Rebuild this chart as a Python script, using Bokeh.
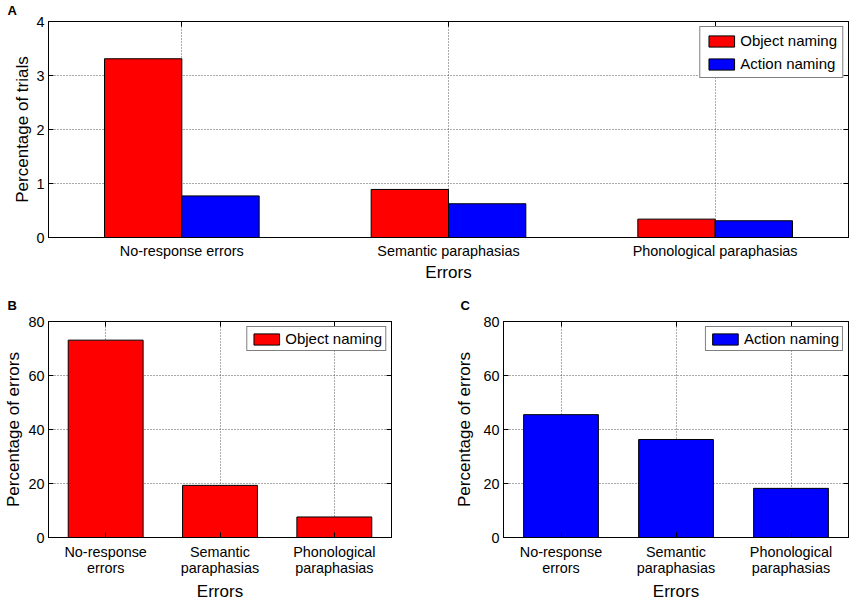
from bokeh.plotting import figure
from bokeh.models import (ColumnDataSource, FactorRange, Range1d, FixedTicker,
                          LinearAxis, CategoricalAxis, CustomLabelingPolicy)
from bokeh.transform import dodge
from bokeh.layouts import column, row
from bokeh.embed import file_html
from bokeh.resources import INLINE

# ---------------- data ----------------
categories = ["No-response errors", "Semantic paraphasias", "Phonological paraphasias"]
categories_wrapped = ["No-response\nerrors", "Semantic\nparaphasias", "Phonological\nparaphasias"]
series_names = ["Object naming", "Action naming"]
series_colors = ["#FF0000", "#0000FF"]

trials_object = [3.31, 0.89, 0.34]     # panel A, % of trials
trials_action = [0.77, 0.625, 0.31]
errors_object = [73.1, 19.3, 7.6]      # panel B, % of errors
errors_action = [45.5, 36.3, 18.2]     # panel C, % of errors

ticks_trials = [0, 1, 2, 3, 4]
ticks_errors = [0, 20, 40, 60, 80]

FONT = "Liberation Sans"

HIDE_LABELS = "for (const i of indices) indices.unset(i)\nreturn indices"


def style(p, yticks, xlabel, ylabel, ylabel_standoff, panel, title_offset, title_standoff,
          xlabel_standoff, xtick_standoff):
    p.outline_line_color = "black"
    p.outline_line_width = 1
    p.background_fill_color = "white"
    p.border_fill_color = "white"
    xax = p.below[0]
    yax = p.left[0]
    for ax in (xax, yax):
        ax.axis_line_color = "black"
        ax.major_tick_in = 5
        ax.major_tick_out = 0
        ax.major_tick_line_color = "black"
        ax.minor_tick_line_color = None
        ax.major_label_text_font = FONT
        ax.major_label_text_font_size = "14.4px"
        ax.major_label_text_color = "black"
        ax.axis_label_text_font = FONT
        ax.axis_label_text_font_size = "17px"
        ax.axis_label_text_font_style = "normal"
        ax.axis_label_text_color = "black"
    xax.axis_label = xlabel
    yax.axis_label = ylabel
    xax.major_label_standoff = xtick_standoff
    xax.major_label_text_line_height = 1.05
    xax.axis_label_standoff = xlabel_standoff
    yax.major_label_standoff = 4
    yax.axis_label_standoff = ylabel_standoff
    yax.ticker = FixedTicker(ticks=yticks)
    p.grid.grid_line_color = "#555555"
    p.grid.grid_line_dash = "1 2"
    p.grid.grid_line_width = 1
    right = LinearAxis(ticker=FixedTicker(ticks=yticks), major_label_text_font_size="1px",
                       major_label_policy=CustomLabelingPolicy(code=HIDE_LABELS),
                       major_label_standoff=0, major_tick_in=5, major_tick_out=0,
                       minor_tick_line_color=None, axis_line_color="black")
    p.add_layout(right, "right")
    top = CategoricalAxis(major_label_text_font_size="1px",
                          major_label_policy=CustomLabelingPolicy(code=HIDE_LABELS),
                          major_label_standoff=0,
                          major_tick_in=5, major_tick_out=0, axis_line_color="black")
    p.add_layout(top, "above")
    p.title.text = panel
    p.title.align = "left"
    p.title.offset = title_offset
    p.title.standoff = title_standoff
    p.title.text_font = FONT
    p.title.text_font_size = "13px"
    p.title.text_font_style = "bold"
    p.title.text_color = "black"


def style_legend(p, padding, margin):
    lg = p.legend[0]
    lg.location = "top_right"
    lg.border_line_color = "black"
    lg.border_line_width = 1
    lg.background_fill_color = "white"
    lg.background_fill_alpha = 1
    lg.label_text_font = FONT
    lg.label_text_font_size = "15px"
    lg.label_text_color = "black"
    lg.glyph_width = 32
    lg.glyph_height = 14
    lg.label_height = 14
    lg.label_standoff = 3
    lg.spacing = 6
    lg.padding = padding
    lg.margin = margin


# ---------------- panel A ----------------
pA = figure(frame_width=800, frame_height=216, x_range=FactorRange(factors=categories),
            y_range=Range1d(0, 4), output_backend="svg", toolbar_location=None,
            min_border_left=48, min_border_right=3, min_border_top=12, min_border_bottom=0)
srcA = ColumnDataSource(dict(cat=categories, obj=trials_object, act=trials_action))
pA.vbar(x=dodge("cat", -0.145, range=pA.x_range), top="obj", width=0.29, source=srcA,
        fill_color=series_colors[0], line_color="black", line_width=1,
        legend_label=series_names[0])
pA.vbar(x=dodge("cat", 0.145, range=pA.x_range), top="act", width=0.29, source=srcA,
        fill_color=series_colors[1], line_color="black", line_width=1,
        legend_label=series_names[1])
style(pA, ticks_trials, "Errors", "Percentage of trials", 1, "A", -41, 0, 1, 5)
style_legend(pA, 5, 5)

# ---------------- panel B ----------------
pB = figure(frame_width=343, frame_height=216, x_range=FactorRange(factors=categories_wrapped),
            y_range=Range1d(0, 80), output_backend="svg", toolbar_location=None,
            min_border_left=48, min_border_right=39, min_border_top=37, min_border_bottom=0)
srcB = ColumnDataSource(dict(cat=categories_wrapped, val=errors_object))
pB.vbar(x="cat", top="val", width=0.655, source=srcB, fill_color=series_colors[0],
        line_color="black", line_width=1, legend_label=series_names[0])
style(pB, ticks_errors, "Errors", "Percentage of errors", 2, "B", -41, 8, 3, 6)
style_legend(pB, 3, 5)

# ---------------- panel C ----------------
pC = figure(frame_width=345, frame_height=216, x_range=FactorRange(factors=categories_wrapped),
            y_range=Range1d(0, 80), output_backend="svg", toolbar_location=None,
            min_border_left=73, min_border_right=3, min_border_top=37, min_border_bottom=0)
srcC = ColumnDataSource(dict(cat=categories_wrapped, val=errors_action))
pC.vbar(x="cat", top="val", width=0.65, source=srcC, fill_color=series_colors[1],
        line_color="black", line_width=1, legend_label=series_names[1])
style(pC, ticks_errors, "Errors", "Percentage of errors", 6, "C", -43, 8, 3, 6)
style_legend(pC, 3, 5)

layout = column(pA, row(pB, pC))
open("out.html", "w").write(file_html(layout, INLINE))
